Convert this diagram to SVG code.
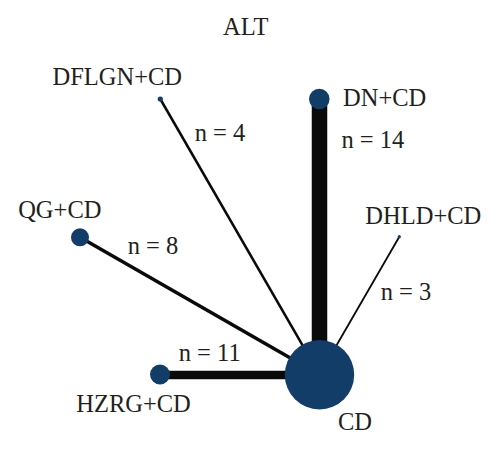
<svg xmlns="http://www.w3.org/2000/svg" width="500" height="449" viewBox="0 0 500 449">
<style>
text{font-family:"Liberation Serif","Times New Roman",serif;font-size:24.5px;fill:#231f20;text-anchor:middle}
.node{fill:#123d68}
.edge{stroke:#0a0a0a;stroke-linecap:butt;fill:none}
</style>
<rect width="500" height="449" fill="#ffffff"/>
<text x="245.7" y="35">ALT</text>
<g id="connectors">
<line class="edge" x1="319.5" y1="99" x2="319.5" y2="374.7" stroke-width="15.5"/>
<line class="edge" x1="160.3" y1="99" x2="319.5" y2="374.7" stroke-width="2.5"/>
<line class="edge" x1="80" y1="237.3" x2="319.5" y2="374.7" stroke-width="3.5"/>
<line class="edge" x1="160" y1="375" x2="319.5" y2="375" stroke-width="8.7"/>
<line class="edge" x1="399.3" y1="236.7" x2="319.5" y2="374.7" stroke-width="1.8"/>
<text x="220" y="141">n = 4</text>
<text x="372.8" y="147.5">n = 14</text>
<text x="153" y="254">n = 8</text>
<text x="209.7" y="360.7">n = 11</text>
<text x="406" y="300">n = 3</text>
</g>
<g id="DN_CD"><circle class="node" cx="319.3" cy="99" r="10.3"/><text x="384.7" y="106">DN+CD</text></g>
<g id="DFLGN_CD"><circle class="node" cx="160.3" cy="99" r="2.6"/><text x="117.3" y="85">DFLGN+CD</text></g>
<g id="DHLD_CD"><circle class="node" cx="399.3" cy="236.7" r="1.6"/><text x="423.3" y="224.3">DHLD+CD</text></g>
<g id="QG_CD"><circle class="node" cx="80" cy="237.3" r="9"/><text x="59.8" y="217.7">QG+CD</text></g>
<g id="HZRG_CD"><circle class="node" cx="160" cy="374.5" r="10"/><text x="133.5" y="411.7">HZRG+CD</text></g>
<g id="CD"><circle class="node" cx="319.5" cy="374.7" r="34.7"/><text x="355" y="430">CD</text></g>
</svg>
